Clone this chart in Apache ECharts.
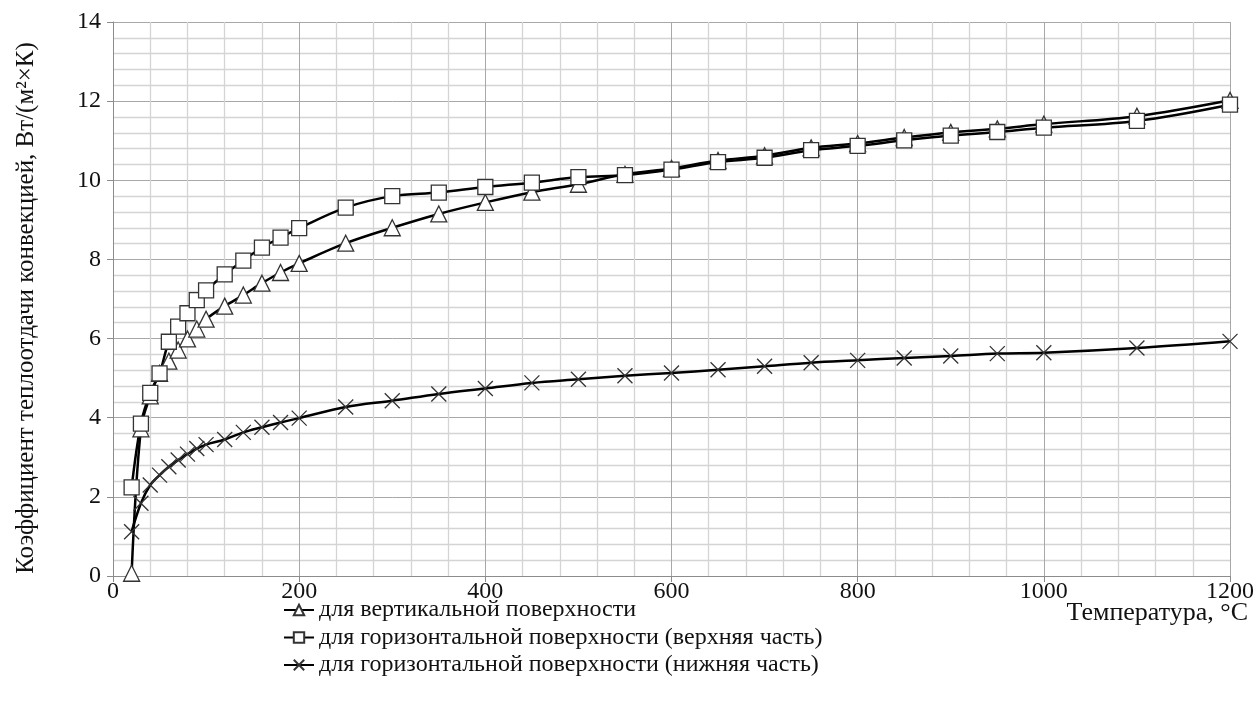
<!DOCTYPE html>
<html>
<head>
<meta charset="utf-8">
<script src="https://cdn.jsdelivr.net/npm/echarts@6/dist/echarts.min.js"></script>
<style>
html,body{margin:0;padding:0;background:#fff;}
#chart{width:1256px;height:715px;}
</style>
</head>
<body>
<div id="chart"></div>
<script>
const temperatures = [20,30,40,50,60,70,80,90,100,120,140,160,180,200,250,300,350,400,450,500,550,600,650,700,750,800,850,900,950,1000,1100,1200];
const verticalSurface = [0.07,3.72,4.55,5.12,5.43,5.71,5.99,6.24,6.49,6.82,7.10,7.40,7.67,7.90,8.41,8.80,9.15,9.44,9.70,9.90,10.15,10.30,10.50,10.62,10.82,10.93,11.08,11.21,11.30,11.42,11.62,12.02];
const horizontalTop = [2.24,3.85,4.63,5.12,5.92,6.30,6.64,6.97,7.22,7.62,7.97,8.30,8.55,8.79,9.31,9.60,9.69,9.83,9.94,10.08,10.13,10.27,10.46,10.57,10.76,10.87,11.01,11.13,11.22,11.33,11.50,11.91];
const horizontalBottom = [1.12,1.84,2.30,2.55,2.76,2.93,3.08,3.22,3.32,3.45,3.63,3.76,3.88,3.99,4.27,4.43,4.60,4.74,4.88,4.97,5.06,5.13,5.21,5.30,5.39,5.45,5.51,5.56,5.62,5.64,5.76,5.93];
const seriesNames = ['для вертикальной поверхности','для горизонтальной поверхности (верхняя часть)','для горизонтальной поверхности (нижняя часть)'];
const yAxisTitle = 'Коэффициент теплоотдачи конвекцией, Вт/(м²×К)';
const xAxisTitle = 'Температура, °C';

const FONT = '"Liberation Serif","Times New Roman",serif';
const pair = (ys) => temperatures.map((t, i) => [t, ys[i]]);
const crossPath = 'path://M0,0L10,10M10,0L0,10';

function lineSeries(name, data, symbol, size) {
  return {
    name: name,
    type: 'line',
    data: data,
    smooth: 0.35,
    symbol: symbol,
    symbolSize: size,
    showAllSymbol: true,
    lineStyle: {color: '#000', width: 2.5},
    itemStyle: {color: '#fff', borderColor: '#333', borderWidth: 1.3},
    emphasis: {disabled: true},
    z: 3
  };
}

const chart = echarts.init(document.getElementById('chart'), null, {renderer: 'canvas'});
chart.setOption({
  animation: false,
  backgroundColor: '#fff',
  grid: {left: 113, top: 22, width: 1117, height: 554, containLabel: false, outerBoundsMode: 'none'},
  xAxis: {
    type: 'value', min: 0, max: 1200, interval: 200,
    axisLine: {show: true, lineStyle: {color: '#8c8c8c', width: 1}},
    axisTick: {show: true, length: 6, lineStyle: {color: '#8c8c8c'}},
    axisLabel: {fontFamily: FONT, fontSize: 24, color: '#111', margin: 4, formatter: (v) => String(v)},
    splitLine: {show: true, lineStyle: {color: '#a8a8a8', width: 1}},
    minorTick: {show: true, splitNumber: 5, length: 0},
    minorSplitLine: {show: true, lineStyle: {color: '#d4d4d4', width: 1.3}}
  },
  yAxis: {
    type: 'value', min: 0, max: 14, interval: 2,
    name: yAxisTitle, nameLocation: 'middle', nameGap: 74, nameRotate: 90,
    nameTextStyle: {fontFamily: FONT, fontSize: 25, color: '#111', padding: [0, 18, 0, 0]},
    axisLine: {show: true, lineStyle: {color: '#8c8c8c', width: 1}},
    axisTick: {show: true, length: 6, lineStyle: {color: '#8c8c8c'}},
    axisLabel: {fontFamily: FONT, fontSize: 24, color: '#111', margin: 12, formatter: (v) => String(v)},
    splitLine: {show: true, lineStyle: {color: '#a8a8a8', width: 1}},
    minorTick: {show: true, splitNumber: 5, length: 0},
    minorSplitLine: {show: true, lineStyle: {color: '#d4d4d4', width: 1.3}}
  },
  legend: {
    orient: 'vertical', left: 278, top: 593, itemGap: 3.5,
    itemWidth: 30, itemHeight: 13,
    textStyle: {fontFamily: FONT, fontSize: 24, color: '#111'},
    data: seriesNames
  },
  graphic: [{
    type: 'text', right: 8, top: 600,
    style: {text: xAxisTitle, font: '26px "Liberation Serif", serif', fill: '#111'}
  }],
  series: [
    lineSeries(seriesNames[0], pair(verticalSurface), 'triangle', 16),
    lineSeries(seriesNames[1], pair(horizontalTop), 'rect', 15),
    lineSeries(seriesNames[2], pair(horizontalBottom), crossPath, 15)
  ]
});
</script>
</body>
</html>
